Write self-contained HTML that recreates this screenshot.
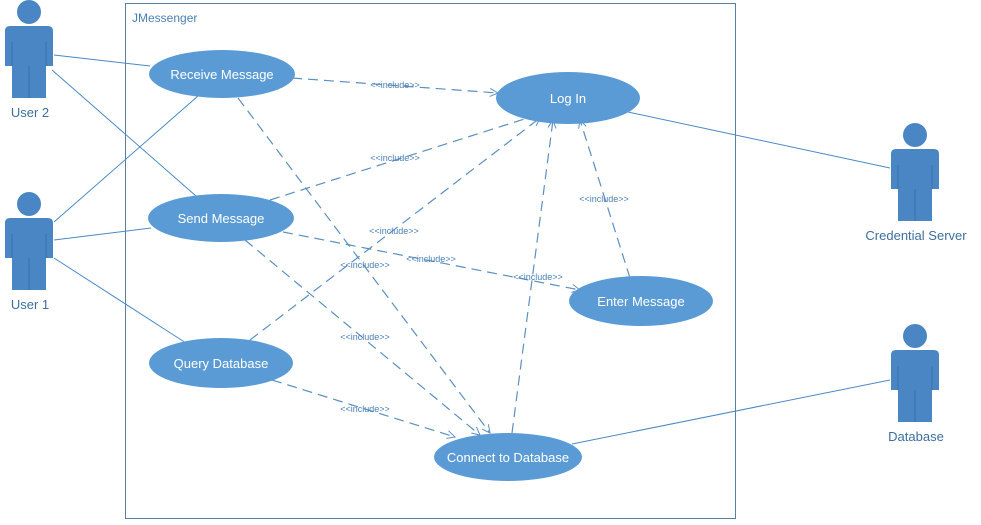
<!DOCTYPE html>
<html><head><meta charset="utf-8"><style>
html,body{margin:0;padding:0;background:#fff;width:981px;height:525px;overflow:hidden}
svg{display:block;font-family:"Liberation Sans",sans-serif}
</style></head><body>
<svg width="981" height="525" viewBox="0 0 981 525">
<defs>
<g id="actor">
<circle cx="24" cy="0" r="12" fill="#4a86c3"/>
<path d="M0,19 Q0,14 5,14 L43,14 Q48,14 48,19 L48,54 L41,54 L41,86 L7,86 L7,54 L0,54 Z" fill="#4a86c3"/>
<path d="M7,30 V54 M41,30 V54 M24,54 V86" stroke="#3a73ac" stroke-width="1" fill="none"/>
</g>
<marker id="ar" markerWidth="10" markerHeight="10" refX="9" refY="5" orient="auto" markerUnits="userSpaceOnUse"><path d="M1,1 L9,5 L1,9" fill="none" stroke="#5b8fc0" stroke-width="1"/></marker>
</defs>
<rect x="125.5" y="3.5" width="610" height="515" fill="none" stroke="#5a7fa6" stroke-width="1"/>
<text x="132" y="22" font-size="12" fill="#4a7fb5">JMessenger</text>

<g stroke="#4a89c5" stroke-width="1" fill="none">
<line x1="54" y1="55" x2="150" y2="66"/>
<line x1="52" y1="70" x2="196" y2="196"/>
<line x1="54" y1="222" x2="198" y2="96"/>
<line x1="54" y1="240" x2="151" y2="228"/>
<line x1="54" y1="258" x2="186" y2="343"/>
<line x1="628" y1="112" x2="890" y2="168"/>
<line x1="572" y1="444" x2="890" y2="380"/>
</g>
<g stroke="#5b8fc0" stroke-width="1.2" stroke-dasharray="10,6" fill="none" marker-end="url(#ar)">
<line x1="292" y1="78" x2="498" y2="93"/>
<line x1="238" y1="98" x2="490" y2="433"/>
<line x1="270" y1="200" x2="540" y2="114"/>
<line x1="283" y1="232" x2="580" y2="290"/>
<line x1="245" y1="240" x2="480" y2="435"/>
<line x1="250" y1="340" x2="540" y2="118"/>
<line x1="272" y1="380" x2="455" y2="437"/>
<line x1="512" y1="433" x2="553" y2="120"/>
<line x1="630" y1="278" x2="580" y2="120"/>
</g>
<g font-size="9" fill="#4a7fb5" text-anchor="middle">
<text x="395" y="88">&lt;&lt;include&gt;&gt;</text>
<text x="395" y="161">&lt;&lt;include&gt;&gt;</text>
<text x="394" y="234">&lt;&lt;include&gt;&gt;</text>
<text x="365" y="268">&lt;&lt;include&gt;&gt;</text>
<text x="431" y="262">&lt;&lt;include&gt;&gt;</text>
<text x="538" y="280">&lt;&lt;include&gt;&gt;</text>
<text x="604" y="202">&lt;&lt;include&gt;&gt;</text>
<text x="365" y="340">&lt;&lt;include&gt;&gt;</text>
<text x="365" y="412">&lt;&lt;include&gt;&gt;</text>
</g>
<g fill="#5b9bd5">
<ellipse cx="222" cy="74" rx="73" ry="24"/>
<ellipse cx="568" cy="98" rx="72" ry="26"/>
<ellipse cx="221" cy="218" rx="73" ry="24"/>
<ellipse cx="641" cy="301" rx="72" ry="25"/>
<ellipse cx="221" cy="363" rx="72" ry="25"/>
<ellipse cx="508" cy="457" rx="74" ry="24"/>
</g>
<g font-size="13" fill="#fff" text-anchor="middle">
<text x="222" y="79">Receive Message</text>
<text x="568" y="103">Log In</text>
<text x="221" y="223">Send Message</text>
<text x="641" y="306">Enter Message</text>
<text x="221" y="368">Query Database</text>
<text x="508" y="462">Connect to Database</text>
</g>
<use href="#actor" x="5" y="12"/>
<use href="#actor" x="5" y="204"/>
<use href="#actor" x="891" y="135"/>
<use href="#actor" x="891" y="336"/>
<g font-size="13" fill="#3f6e9e" text-anchor="middle">
<text x="30" y="117">User 2</text>
<text x="30" y="309">User 1</text>
<text x="916" y="240">Credential Server</text>
<text x="916" y="441">Database</text>
</g>
</svg>
</body></html>
